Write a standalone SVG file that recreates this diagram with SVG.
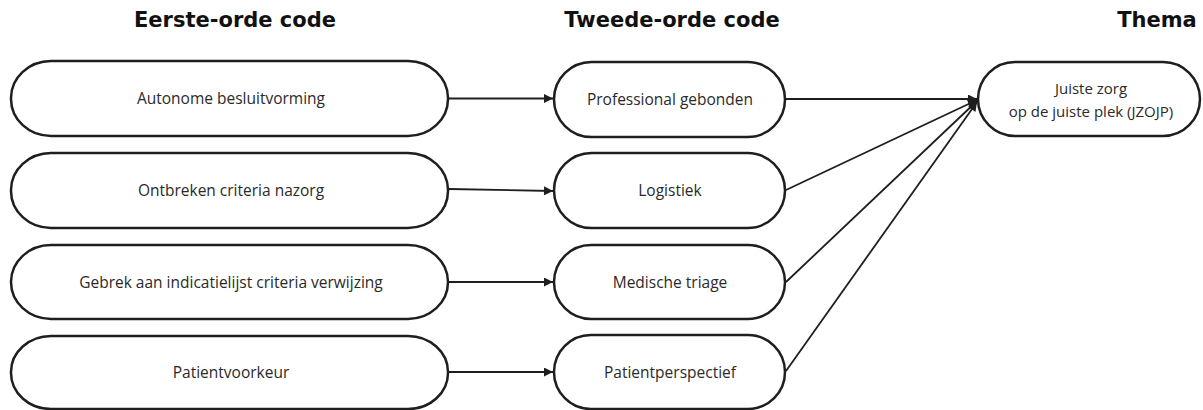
<svg xmlns="http://www.w3.org/2000/svg" width="1203" height="410" viewBox="0 0 1203 410">
<defs>
<style>
.n{fill:#fff;stroke:#1e1e1e;stroke-width:2.5}
.t{font-family:"Open Sans","Liberation Sans",sans-serif;font-size:15.5px;fill:#2a2a2a;text-anchor:middle}
.s{font-size:15px}
.h{font-family:"DejaVu Sans","Open Sans",sans-serif;font-size:21px;font-weight:bold;fill:#111;text-anchor:middle}
.c{stroke:#1e1e1e;stroke-width:1.8;fill:none;marker-end:url(#a)}
</style>
<marker id="a" viewBox="0 0 10 10" refX="10" refY="5" markerWidth="10" markerHeight="9" markerUnits="userSpaceOnUse" orient="auto">
<path d="M0,0L10,5L0,10z" fill="#1e1e1e"/>
</marker>
</defs>
<rect width="1203" height="410" fill="#fff"/>
<g id="headers">
<text class="h" x="235" y="27">Eerste-orde code</text>
<text class="h" x="672" y="27">Tweede-orde code</text>
<text class="h" x="1157" y="27">Thema</text>
</g>
<g id="connectors">
<line class="c" x1="449" y1="98.5" x2="553" y2="98.5"/>
<line class="c" x1="449" y1="189" x2="553" y2="191"/>
<line class="c" x1="449" y1="282" x2="553" y2="282"/>
<line class="c" x1="449" y1="372" x2="553" y2="372"/>
<line class="c" x1="786" y1="99" x2="977" y2="99"/>
<line class="c" x1="786" y1="190" x2="977" y2="100"/>
<line class="c" x1="786" y1="282" x2="977" y2="101"/>
<line class="c" x1="786" y1="371" x2="977" y2="102"/>
</g>
<g id="n1"><rect class="n" x="11" y="61" width="437" height="75" rx="40" ry="37"/><text class="t" x="231" y="104">Autonome besluitvorming</text></g>
<g id="n2"><rect class="n" x="11" y="153" width="437" height="75" rx="40" ry="37"/><text class="t" x="231" y="196">Ontbreken criteria nazorg</text></g>
<g id="n3"><rect class="n" x="11" y="245" width="437" height="74" rx="40" ry="37"/><text class="t" x="231" y="288">Gebrek aan indicatielijst criteria verwijzing</text></g>
<g id="n4"><rect class="n" x="11" y="336" width="437" height="73" rx="40" ry="36"/><text class="t" x="231" y="378">Patientvoorkeur</text></g>
<g id="m1"><rect class="n" x="554" y="62" width="231" height="75" rx="37.5" ry="37.5"/><text class="t" x="670" y="105">Professional gebonden</text></g>
<g id="m2"><rect class="n" x="554" y="153" width="231" height="75" rx="37.5" ry="37.5"/><text class="t" x="670" y="196">Logistiek</text></g>
<g id="m3"><rect class="n" x="554" y="245" width="231" height="74" rx="37" ry="37"/><text class="t" x="670" y="288">Medische triage</text></g>
<g id="m4"><rect class="n" x="554" y="335" width="231" height="74" rx="37" ry="37"/><text class="t" x="670" y="378">Patientperspectief</text></g>
<g id="theme"><rect class="n" x="978" y="62" width="222" height="74" rx="37" ry="37"/><text class="t s" x="1091" y="94">Juiste zorg</text><text class="t s" x="1091" y="117">op de juiste plek (JZOJP)</text></g>
</svg>
